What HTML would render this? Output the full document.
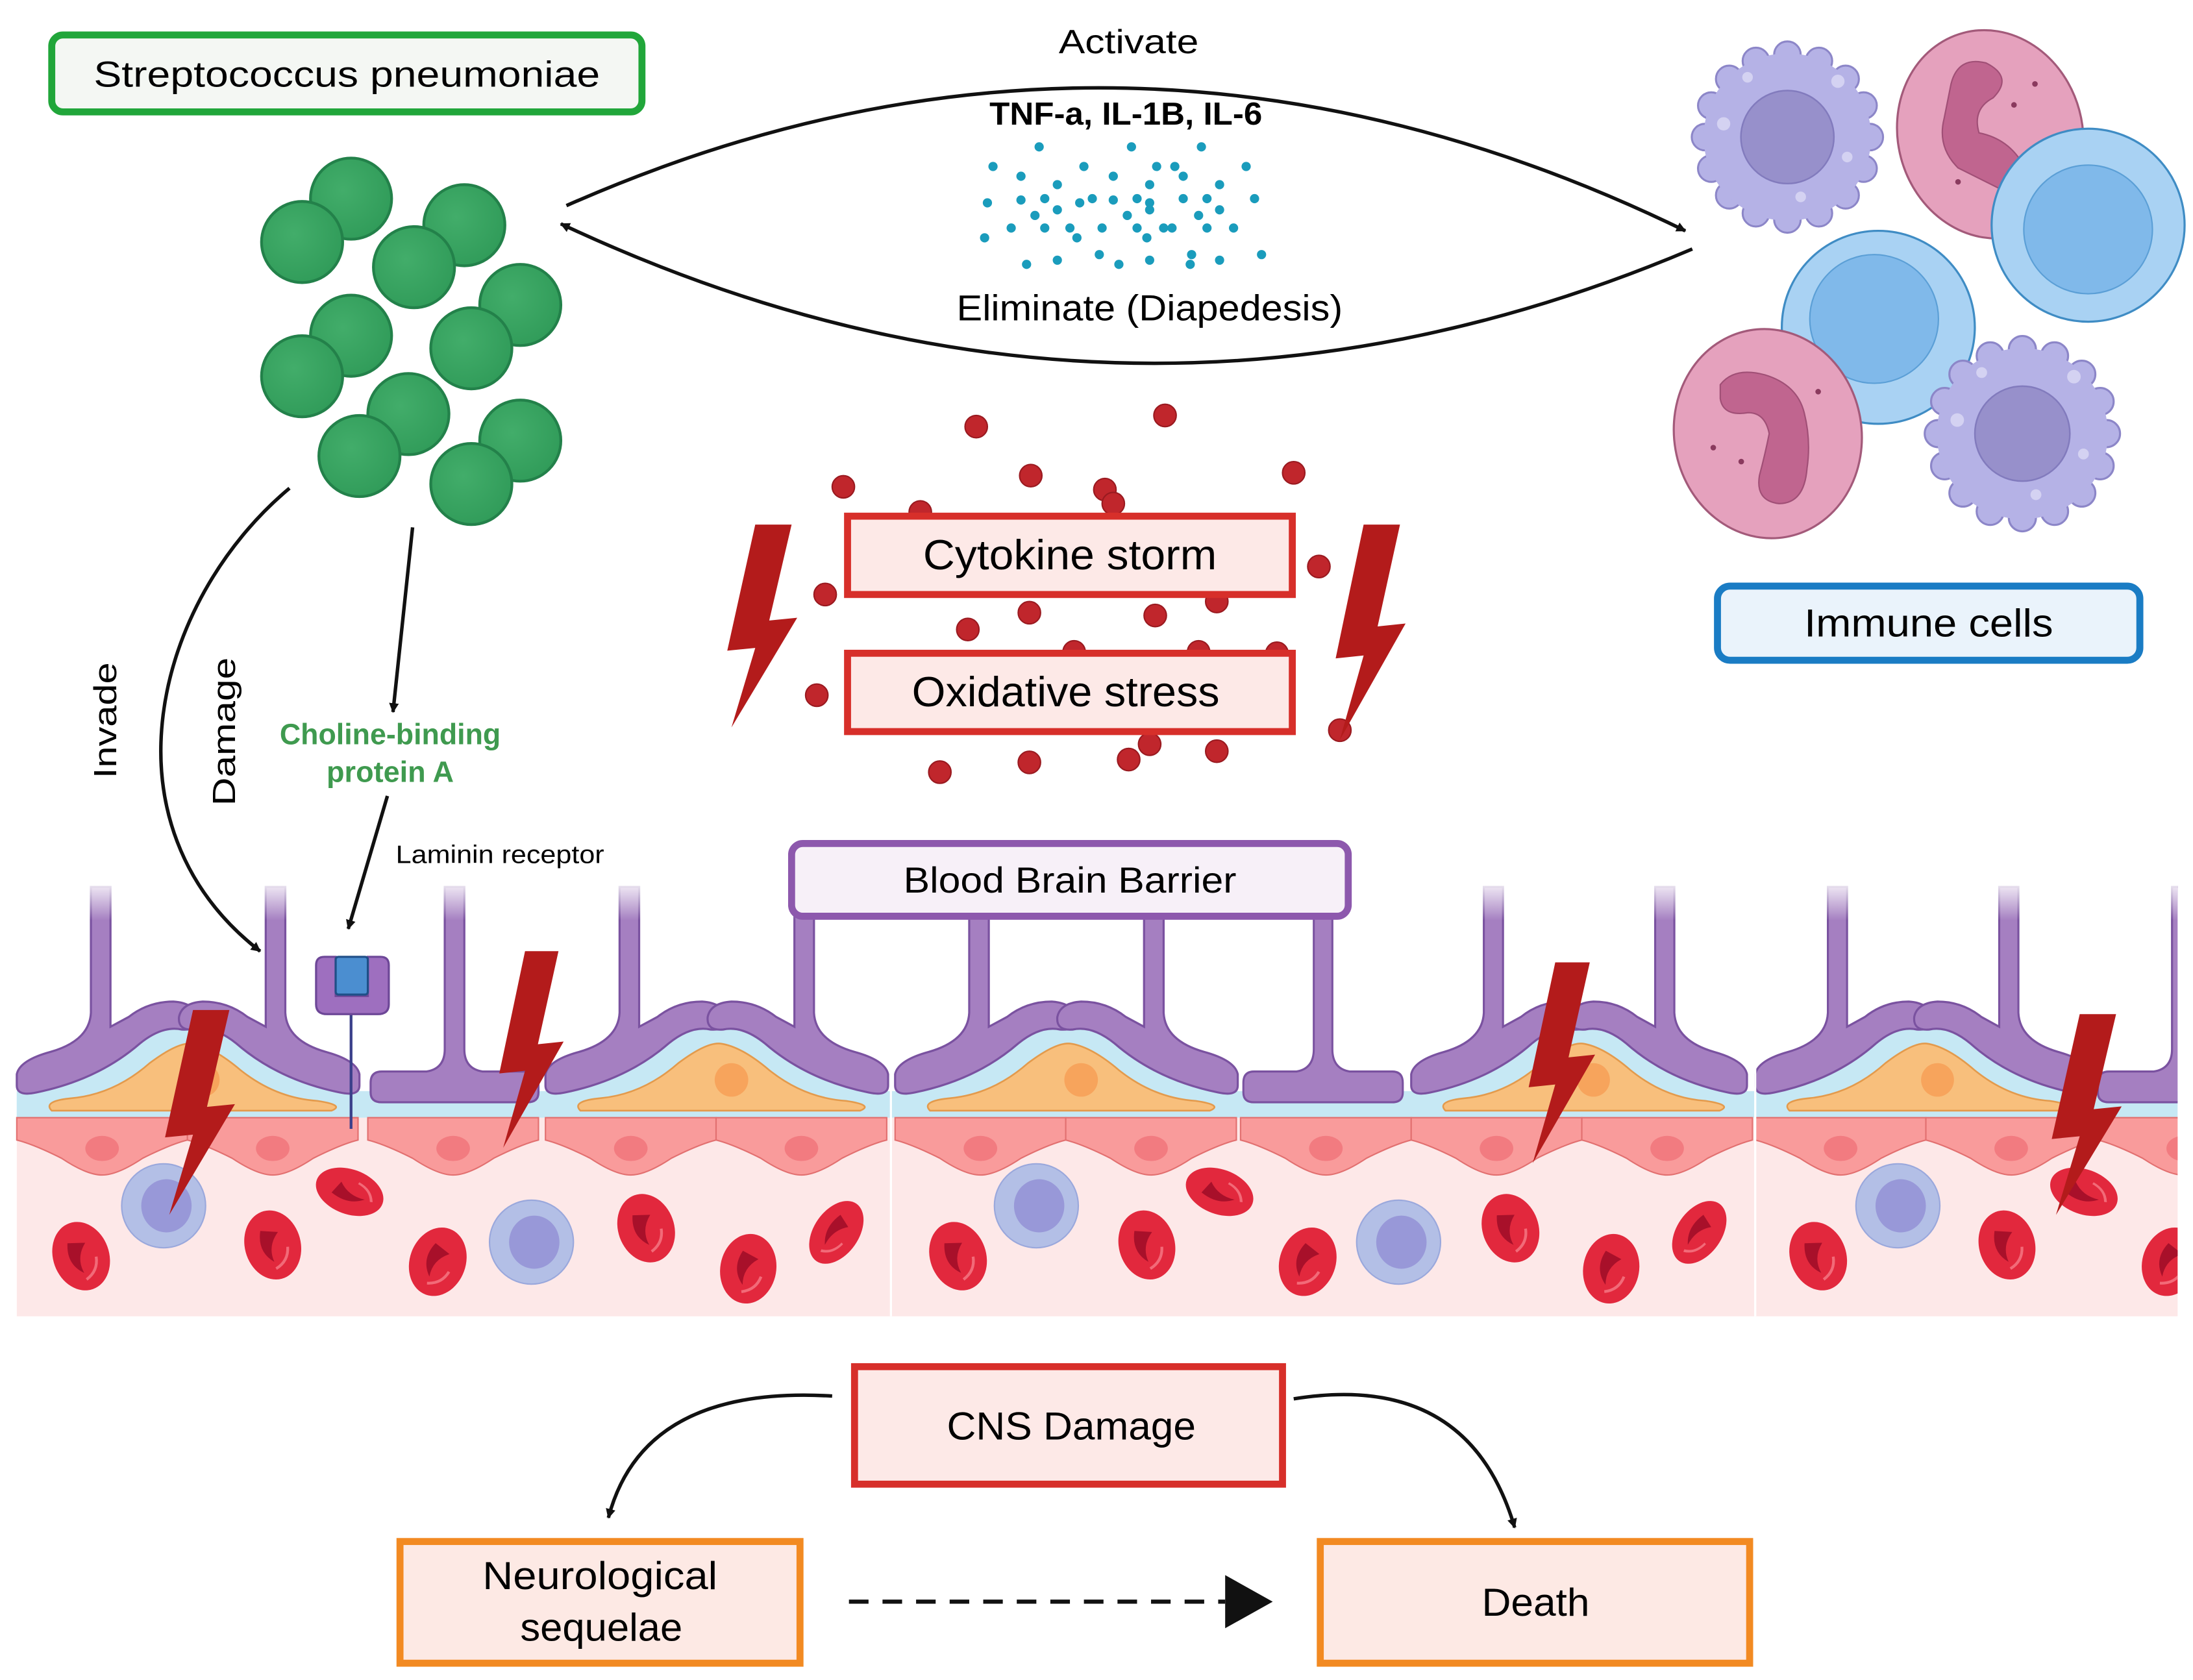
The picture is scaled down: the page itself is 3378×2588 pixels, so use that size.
<!DOCTYPE html>
<html><head><meta charset="utf-8"><style>
html,body{margin:0;padding:0;background:#fff;}
svg{display:block;}
text{font-family:"Liberation Sans",sans-serif;}
</style></head><body>
<svg width="3378" height="2588" viewBox="0 0 1568 1201" preserveAspectRatio="none" xmlns="http://www.w3.org/2000/svg">
<defs>
<marker id="ah" viewBox="0 0 10 10" refX="9" refY="5" markerWidth="7" markerHeight="7" orient="auto" markerUnits="userSpaceOnUse">
<path d="M0,0 L10,5 L0,10 Z" fill="#111"/></marker>
<linearGradient id="fade" x1="0" y1="0" x2="0" y2="1"><stop offset="0" stop-color="#fff" stop-opacity="1"/><stop offset="1" stop-color="#fff" stop-opacity="0"/></linearGradient>
<radialGradient id="gc" cx="0.4" cy="0.4" r="0.7"><stop offset="0" stop-color="#42ad6a"/><stop offset="1" stop-color="#2f9a58"/></radialGradient>
<polygon id="bolt" points="20,0 46,0 30,70 50,68 3,148 20,90 0,92"/>
<g id="foot">
<path d="M53,634 L53,724 Q52,744 24,752 Q2,758 0,768 L0,776 Q0,784 14,781 Q58,772 88,746 Q104,733 118,736 Q130,737 129,727 Q127,717 112,716 Q94,716 80,727 L67,734 L67,634 Z" fill="#a57fc1" stroke="#7a52a0" stroke-width="1.5"/>
</g>
<g id="arch">
<path d="M0,780 Q45,778 75,750 Q100,723 122,722 Q144,723 170,750 Q200,778 245,780 L245,799 L0,799 Z" fill="#c6e8f4"/>
<path d="M25,794 Q18,787 40,785 Q70,782 95,760 Q115,745 125,746 Q140,748 160,765 Q185,785 215,787 Q235,790 225,794 Z" fill="#f8bf7c" stroke="#e39a4c" stroke-width="1.2"/>
<circle cx="133" cy="772" r="12" fill="#f7a45c"/>
<use href="#foot"/>
<use href="#foot" transform="translate(245,0) scale(-1,1)"/>
</g>
<g id="tee">
<path d="M53,634 L53,750 Q53,764 40,766 L8,766 Q0,766 0,774 L0,781 Q0,788 8,788 L112,788 Q120,788 120,781 L120,774 Q120,766 112,766 L80,766 Q67,764 67,750 L67,634 Z" fill="#a57fc1" stroke="#7a52a0" stroke-width="1.5"/>
</g>
<g id="endo">
<path d="M0,799 L122,799 L122,815 Q110,818 90,828 Q72,840 61,840 Q50,840 32,828 Q12,818 0,815 Z" fill="#f99b9b" stroke="#e27070" stroke-width="1"/>
<ellipse cx="61" cy="821" rx="12" ry="9" fill="#f27b80"/>
</g>
<g id="rbc">
<ellipse cx="0" cy="0" rx="20" ry="25" fill="#e2283d"/>
<path d="M-6,-12 Q-12,2 -2,12 Q-4,0 6,-8 Z" fill="#a8102a"/>
<path d="M10,4 Q8,14 -2,17" stroke="#f26a78" stroke-width="2" fill="none"/>
</g>
<g id="lym">
<ellipse cx="0" cy="0" rx="30" ry="30" fill="#b3bfe6" stroke="#9aa8dc" stroke-width="1"/>
<ellipse cx="2" cy="0" rx="18" ry="19" fill="#9898d8"/>
</g>
<g id="macro">
<g fill="#b5b2e6" stroke="#8c86c8" stroke-width="1.5">
<circle cx="62" cy="0" r="10"/><circle cx="57.3" cy="23.7" r="10"/><circle cx="43.8" cy="43.8" r="10"/><circle cx="23.7" cy="57.3" r="10"/><circle cx="0" cy="62" r="10"/><circle cx="-23.7" cy="57.3" r="10"/><circle cx="-43.8" cy="43.8" r="10"/><circle cx="-57.3" cy="23.7" r="10"/><circle cx="-62" cy="0" r="10"/><circle cx="-57.3" cy="-23.7" r="10"/><circle cx="-43.8" cy="-43.8" r="10"/><circle cx="-23.7" cy="-57.3" r="10"/><circle cx="0" cy="-62" r="10"/><circle cx="23.7" cy="-57.3" r="10"/><circle cx="43.8" cy="-43.8" r="10"/><circle cx="57.3" cy="-23.7" r="10"/>
</g>
<circle cx="0" cy="0" r="63" fill="#b5b2e6"/>
<circle cx="0" cy="0" r="35" fill="#9790cb" stroke="#827bbd" stroke-width="1.2"/>
<g fill="#d4d2f2"><circle cx="-48" cy="-10" r="5"/><circle cx="38" cy="-42" r="5"/><circle cx="45" cy="15" r="4"/><circle cx="10" cy="45" r="4"/><circle cx="-30" cy="-45" r="4"/></g>
</g>
</defs>

<!-- top box -->
<rect x="37" y="25" width="422" height="55" rx="8" fill="#f4f7f3" stroke="#21a63a" stroke-width="5"/>
<text x="248" y="62" font-size="26" text-anchor="middle" textLength="362" lengthAdjust="spacingAndGlyphs">Streptococcus pneumoniae</text>

<!-- cocci -->
<g fill="url(#gc)" stroke="#23814a" stroke-width="2">
<circle cx="251" cy="142" r="29"/><circle cx="216" cy="173" r="29"/>
<circle cx="332" cy="161" r="29"/><circle cx="296" cy="191" r="29"/>
<circle cx="251" cy="240" r="29"/><circle cx="216" cy="269" r="29"/>
<circle cx="372" cy="218" r="29"/><circle cx="337" cy="249" r="29"/>
<circle cx="292" cy="296" r="29"/><circle cx="257" cy="326" r="29"/>
<circle cx="372" cy="315" r="29"/><circle cx="337" cy="346" r="29"/>
</g>

<!-- top arcs -->
<text x="807" y="38" font-size="24" text-anchor="middle" textLength="100" lengthAdjust="spacingAndGlyphs">Activate</text>
<path d="M405,147 Q805,-30 1205,165" fill="none" stroke="#111" stroke-width="2.5" marker-end="url(#ah)"/>
<path d="M1210,178 Q805,350 401,160" fill="none" stroke="#111" stroke-width="2.5" marker-end="url(#ah)"/>
<text x="805" y="89" font-size="23" font-weight="bold" text-anchor="middle" textLength="195" lengthAdjust="spacingAndGlyphs">TNF-a, IL-1B, IL-6</text>
<text x="822" y="229" font-size="26" text-anchor="middle" textLength="276" lengthAdjust="spacingAndGlyphs">Eliminate (Diapedesis)</text>
<g fill="#1a9cbc">
<circle cx="743" cy="105" r="3.3"/><circle cx="809" cy="105" r="3.3"/><circle cx="859" cy="105" r="3.3"/>
<circle cx="710" cy="119" r="3.3"/><circle cx="775" cy="119" r="3.3"/><circle cx="827" cy="119" r="3.3"/><circle cx="840" cy="119" r="3.3"/><circle cx="891" cy="119" r="3.3"/>
<circle cx="730" cy="126" r="3.3"/><circle cx="796" cy="126" r="3.3"/><circle cx="846" cy="126" r="3.3"/>
<circle cx="756" cy="132" r="3.3"/><circle cx="822" cy="132" r="3.3"/><circle cx="872" cy="132" r="3.3"/>
<circle cx="706" cy="145" r="3.3"/><circle cx="730" cy="143" r="3.3"/><circle cx="747" cy="142" r="3.3"/><circle cx="772" cy="145" r="3.3"/><circle cx="781" cy="142" r="3.3"/><circle cx="796" cy="143" r="3.3"/><circle cx="813" cy="142" r="3.3"/><circle cx="822" cy="145" r="3.3"/><circle cx="846" cy="142" r="3.3"/><circle cx="863" cy="142" r="3.3"/><circle cx="897" cy="142" r="3.3"/>
<circle cx="756" cy="150" r="3.3"/><circle cx="822" cy="150" r="3.3"/><circle cx="872" cy="150" r="3.3"/><circle cx="740" cy="154" r="3.3"/><circle cx="806" cy="154" r="3.3"/><circle cx="857" cy="154" r="3.3"/>
<circle cx="723" cy="163" r="3.3"/><circle cx="747" cy="163" r="3.3"/><circle cx="765" cy="163" r="3.3"/><circle cx="788" cy="163" r="3.3"/><circle cx="813" cy="163" r="3.3"/><circle cx="832" cy="163" r="3.3"/><circle cx="838" cy="163" r="3.3"/><circle cx="863" cy="163" r="3.3"/><circle cx="882" cy="163" r="3.3"/>
<circle cx="704" cy="170" r="3.3"/><circle cx="770" cy="170" r="3.3"/><circle cx="820" cy="170" r="3.3"/>
<circle cx="786" cy="182" r="3.3"/><circle cx="852" cy="182" r="3.3"/><circle cx="902" cy="182" r="3.3"/>
<circle cx="734" cy="189" r="3.3"/><circle cx="756" cy="186" r="3.3"/><circle cx="800" cy="189" r="3.3"/><circle cx="822" cy="186" r="3.3"/><circle cx="851" cy="189" r="3.3"/><circle cx="872" cy="186" r="3.3"/>
</g>

<!-- immune cells -->
<use href="#macro" transform="translate(1278,98) scale(0.95)"/>
<ellipse cx="1423" cy="96" rx="66" ry="75" fill="#e5a1bd" stroke="#a35a7a" stroke-width="1.5" transform="rotate(-15 1423 96)"/>
<path d="M1395,60 Q1400,40 1420,45 Q1440,55 1425,70 Q1410,78 1415,95 Q1440,100 1450,125 Q1460,140 1440,140 Q1420,130 1400,120 Q1385,105 1390,85 Z" fill="#c0658f" stroke="#a04f76" stroke-width="1"/>
<circle cx="1493" cy="161" r="69" fill="#a9d2f3" stroke="#3f8cc4" stroke-width="1.5"/>
<circle cx="1493" cy="164" r="46" fill="#80b9ea" stroke="#5b9fd6" stroke-width="1"/>
<circle cx="1343" cy="234" r="69" fill="#a9d2f3" stroke="#3f8cc4" stroke-width="1.5"/>
<circle cx="1340" cy="228" r="46" fill="#80b9ea" stroke="#5b9fd6" stroke-width="1"/>
<ellipse cx="1264" cy="310" rx="67" ry="75" fill="#e5a1bd" stroke="#a35a7a" stroke-width="1.5" transform="rotate(-10 1264 310)"/>
<path d="M1230,275 Q1240,262 1262,268 Q1285,275 1290,295 Q1295,315 1292,335 Q1290,360 1272,360 Q1255,358 1258,340 Q1262,325 1265,310 Q1262,295 1250,295 Q1232,298 1230,285 Z" fill="#c0658f" stroke="#a04f76" stroke-width="1"/>
<g fill="#8a3a5e"><circle cx="1225" cy="320" r="2"/><circle cx="1245" cy="330" r="2"/><circle cx="1300" cy="280" r="2"/><circle cx="1440" cy="75" r="2"/><circle cx="1455" cy="60" r="2"/><circle cx="1400" cy="130" r="2"/></g>
<use href="#macro" transform="translate(1446,310) scale(0.97)"/>
<rect x="1228" y="419" width="302" height="53" rx="9" fill="#eaf3fb" stroke="#1a7cc4" stroke-width="5"/>
<text x="1379" y="455" font-size="28" text-anchor="middle" textLength="178" lengthAdjust="spacingAndGlyphs">Immune cells</text>

<!-- red dots & storm boxes -->
<g fill="#c0262c" stroke="#9a1a20" stroke-width="1">
<circle cx="698" cy="305" r="8"/><circle cx="833" cy="297" r="8"/><circle cx="603" cy="348" r="8"/><circle cx="737" cy="340" r="8"/><circle cx="790" cy="350" r="8"/><circle cx="796" cy="360" r="8"/><circle cx="925" cy="338" r="8"/><circle cx="658" cy="366" r="8"/>
<circle cx="943" cy="405" r="8"/><circle cx="590" cy="425" r="8"/><circle cx="736" cy="438" r="8"/><circle cx="826" cy="440" r="8"/><circle cx="870" cy="430" r="8"/><circle cx="692" cy="450" r="8"/><circle cx="857" cy="466" r="8"/><circle cx="913" cy="467" r="8"/><circle cx="768" cy="466" r="8"/>
<circle cx="584" cy="497" r="8"/><circle cx="958" cy="522" r="8"/><circle cx="736" cy="545" r="8"/><circle cx="807" cy="543" r="8"/><circle cx="822" cy="532" r="8"/><circle cx="870" cy="537" r="8"/><circle cx="672" cy="552" r="8"/>
</g>
<rect x="606" y="369" width="318" height="56" fill="#fde9e7" stroke="#d72f2a" stroke-width="5"/>
<text x="765" y="407" font-size="30" text-anchor="middle" textLength="210" lengthAdjust="spacingAndGlyphs">Cytokine storm</text>
<rect x="606" y="467" width="318" height="56" fill="#fde9e7" stroke="#d72f2a" stroke-width="5"/>
<text x="762" y="505" font-size="30" text-anchor="middle" textLength="220" lengthAdjust="spacingAndGlyphs">Oxidative stress</text>
<g fill="#b31b1b">
<use href="#bolt" transform="translate(520,375) scale(1,0.98)"/>
<use href="#bolt" transform="translate(955,375) scale(1,1.04)"/>
</g>

<!-- labels -->
<text transform="translate(83,515) rotate(-90)" font-size="23" text-anchor="middle" textLength="83" lengthAdjust="spacingAndGlyphs">Invade</text>
<text transform="translate(168,523) rotate(-90)" font-size="23" text-anchor="middle" textLength="106" lengthAdjust="spacingAndGlyphs">Damage</text>
<text x="279" y="532" font-size="21" font-weight="bold" fill="#3f9a4f" text-anchor="middle" textLength="158" lengthAdjust="spacingAndGlyphs">Choline-binding</text>
<text x="279" y="559" font-size="21" font-weight="bold" fill="#3f9a4f" text-anchor="middle" textLength="91" lengthAdjust="spacingAndGlyphs">protein A</text>
<text x="283" y="617" font-size="18" textLength="149" lengthAdjust="spacingAndGlyphs">Laminin receptor</text>

<!-- tissue -->
<rect x="12" y="799" width="1545" height="142" fill="#fde8e8"/>
<rect x="12" y="780" width="1545" height="19" fill="#c6e8f4"/>
<svg x="0" y="0" width="1557" height="1201" viewBox="0 0 1557 1201" overflow="hidden">
<use href="#arch" transform="translate(12,0)"/>
<use href="#tee" transform="translate(265,0)"/>
<use href="#arch" transform="translate(390,0)"/>
<use href="#arch" transform="translate(640,0)"/>
<use href="#tee" transform="translate(889,0) scale(0.95,1)"/>
<use href="#arch" transform="translate(1009,0) scale(0.98,1)"/>
<use href="#arch" transform="translate(1255,0) scale(0.98,1)"/>
<use href="#tee" transform="translate(1500,0)"/>
<use href="#endo" transform="translate(12,0)"/><use href="#endo" transform="translate(134,0)"/>
<use href="#endo" transform="translate(263,0)"/>
<use href="#endo" transform="translate(390,0)"/><use href="#endo" transform="translate(512,0)"/>
<use href="#endo" transform="translate(640,0)"/><use href="#endo" transform="translate(762,0)"/>
<use href="#endo" transform="translate(887,0)"/>
<use href="#endo" transform="translate(1009,0)"/><use href="#endo" transform="translate(1131,0)"/>
<use href="#endo" transform="translate(1255,0)"/><use href="#endo" transform="translate(1377,0)"/>
<use href="#endo" transform="translate(1500,0)"/>
<rect x="0" y="628" width="1557" height="30" fill="url(#fade)"/>
<!-- blood -->
<use href="#lym" transform="translate(117,862)"/><use href="#lym" transform="translate(380,888)"/><use href="#lym" transform="translate(741,862)"/><use href="#lym" transform="translate(1000,888)"/><use href="#lym" transform="translate(1357,862)"/>
<use href="#rbc" transform="translate(58,898) rotate(-20)"/>
<use href="#rbc" transform="translate(195,890) rotate(-15)"/>
<use href="#rbc" transform="translate(250,852) rotate(-70) scale(0.8,1)"/>
<use href="#rbc" transform="translate(313,902) rotate(20)"/>
<use href="#rbc" transform="translate(462,878) rotate(-20)"/>
<use href="#rbc" transform="translate(535,907) rotate(10)"/>
<use href="#rbc" transform="translate(598,881) rotate(35) scale(0.8,1)"/>
<use href="#rbc" transform="translate(685,898) rotate(-20)"/>
<use href="#rbc" transform="translate(820,890) rotate(-15)"/>
<use href="#rbc" transform="translate(872,852) rotate(-70) scale(0.8,1)"/>
<use href="#rbc" transform="translate(935,902) rotate(20)"/>
<use href="#rbc" transform="translate(1080,878) rotate(-20)"/>
<use href="#rbc" transform="translate(1152,907) rotate(10)"/>
<use href="#rbc" transform="translate(1215,881) rotate(35) scale(0.8,1)"/>
<use href="#rbc" transform="translate(1300,898) rotate(-20)"/>
<use href="#rbc" transform="translate(1435,890) rotate(-15)"/>
<use href="#rbc" transform="translate(1490,852) rotate(-70) scale(0.8,1)"/>
<use href="#rbc" transform="translate(1552,902) rotate(20)"/>
<line x1="637" y1="630" x2="637" y2="941" stroke="#fff" stroke-width="1.5"/>
<line x1="1255" y1="630" x2="1255" y2="941" stroke="#fff" stroke-width="1.5"/>
<!-- receptor -->
<line x1="251" y1="722" x2="251" y2="807" stroke="#3a3f8a" stroke-width="2"/>
<path d="M226,690 Q226,684 232,684 L240,684 L240,712 L263,712 L263,684 L272,684 Q278,684 278,690 L278,718 Q278,725 270,725 L234,725 Q226,725 226,718 Z" fill="#9e6fbf" stroke="#6d4797" stroke-width="1.5"/>
<rect x="240" y="684" width="23" height="27" rx="2" fill="#4b8ed0" stroke="#1f4f87" stroke-width="1.5"/>
<g fill="#b31b1b">
<use href="#bolt" transform="translate(118,722) scale(1,0.99)"/>
<use href="#bolt" transform="translate(357,680) scale(0.92,0.95)"/>
<use href="#bolt" transform="translate(1093,688) scale(0.95,0.97)"/>
<use href="#bolt" transform="translate(1467,725) scale(1,0.97)"/>
</g>
</svg>
<!-- left arrows (after tissue so not faded) -->
<path d="M207,349 C110,430 70,590 186,680" fill="none" stroke="#111" stroke-width="2.5" marker-end="url(#ah)"/>
<path d="M295,377 L281,509" fill="none" stroke="#111" stroke-width="2.5" marker-end="url(#ah)"/>
<path d="M277,569 L249,664" fill="none" stroke="#111" stroke-width="2.5" marker-end="url(#ah)"/>

<rect x="566" y="603" width="398" height="52" rx="8" fill="#f7f0f8" stroke="#8d58ad" stroke-width="5"/>
<text x="765" y="638" font-size="26" text-anchor="middle" textLength="238" lengthAdjust="spacingAndGlyphs">Blood Brain Barrier</text>

<!-- bottom -->
<rect x="611" y="977" width="306" height="84" fill="#fde9e7" stroke="#d72f2a" stroke-width="5"/>
<text x="766" y="1029" font-size="28" text-anchor="middle" textLength="178" lengthAdjust="spacingAndGlyphs">CNS Damage</text>
<path d="M595,998 Q460,990 435,1085" fill="none" stroke="#111" stroke-width="2.5" marker-end="url(#ah)"/>
<path d="M925,1000 Q1050,980 1083,1092" fill="none" stroke="#111" stroke-width="2.5" marker-end="url(#ah)"/>
<rect x="286" y="1102" width="286" height="87" fill="#fde9e4" stroke="#f28a22" stroke-width="5"/>
<text x="429" y="1136" font-size="28" text-anchor="middle" textLength="168" lengthAdjust="spacingAndGlyphs">Neurological</text>
<text x="430" y="1173" font-size="28" text-anchor="middle" textLength="116" lengthAdjust="spacingAndGlyphs">sequelae</text>
<rect x="944" y="1102" width="307" height="87" fill="#fde9e4" stroke="#f28a22" stroke-width="5"/>
<text x="1098" y="1155" font-size="28" text-anchor="middle" textLength="77" lengthAdjust="spacingAndGlyphs">Death</text>
<line x1="607" y1="1145" x2="876" y2="1145" stroke="#111" stroke-width="3" stroke-dasharray="14,10"/>
<path d="M876,1126 L910,1145 L876,1164 Z" fill="#111"/>
</svg>
</body></html>
